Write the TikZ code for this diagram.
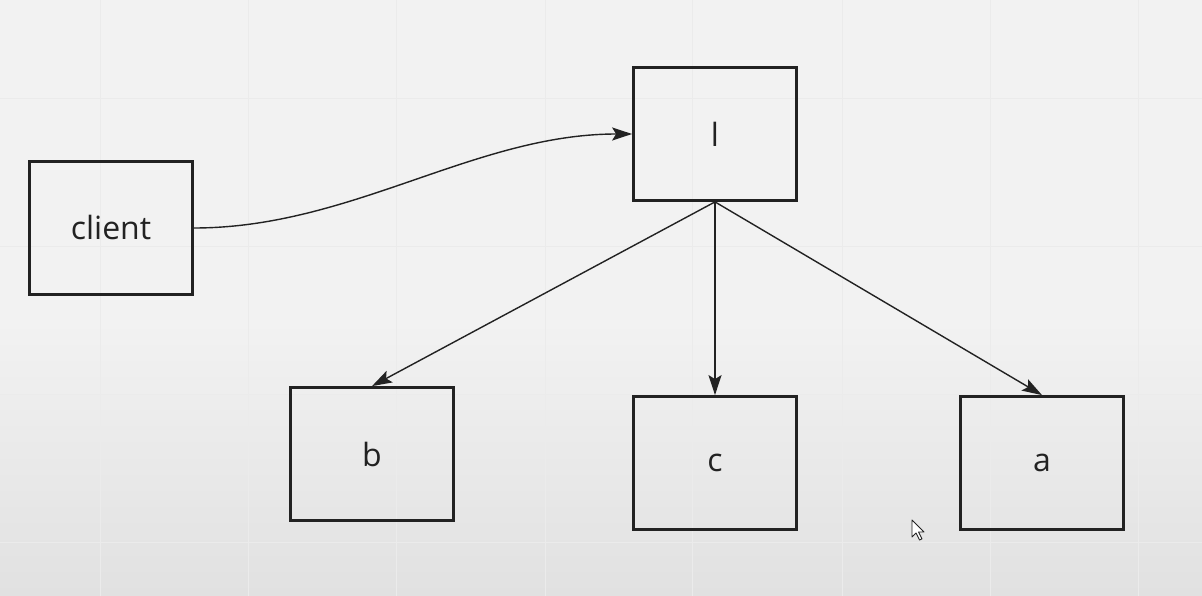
\documentclass[tikz,border=0pt]{standalone}
\usepackage{fontspec}
\setmainfont{Open Sans}
\usetikzlibrary{arrows.meta}
\definecolor{bgtop}{HTML}{F2F2F2}
\definecolor{bgbot}{HTML}{E1E1E1}
\definecolor{gridc}{HTML}{EBEBEB}
\definecolor{ink}{HTML}{222222}
\tikzset{
  box/.style={draw=ink, line width=2.8pt, minimum width=163pt, minimum height=133pt,
    inner sep=0pt, font=\fontsize{32}{36}\selectfont, text=ink},
  link/.style={draw=ink, line width=1.4pt, -{Stealth[length=20pt,width=13pt,inset=4pt]}},
}
\begin{document}
\begin{tikzpicture}[x=1pt,y=-1pt]
  \useasboundingbox (0,0) rectangle (1202,596);
  % backdrop: flat top, darker towards the bottom
  \fill[bgtop] (0,0) rectangle (1202,320);
  \shade[top color=bgtop, bottom color=bgbot] (0,320) rectangle (1202,596);
  % faint canvas grid
  \foreach \gx in {100,248,396,545,692,842,990,1138}
    \draw[gridc, line width=0.7pt] (\gx,0) -- (\gx,596);
  \foreach \gy in {98,246,394,542}
    \draw[gridc, line width=0.7pt] (0,\gy) -- (1202,\gy);

  % boxes
  \node[box] (client) at (111,228) {client};
  \node[box] (l) at (715,134) {l};
  \node[box] (b) at (372,454) {b};
  \node[box] (c) at (715,463) {c};
  \node[box] (a) at (1042,463) {a};

  % connectors
  \draw[link] (client.east) to[out=0, in=180, looseness=0.9] (l.west);
  \draw[link] (l.south) -- (b.north);
  \draw[link] (l.south) -- (c.north);
  \draw[link] (l.south) -- (a.north);

  % mouse pointer
  \coordinate (ptr) at (912,520);
  \draw[ink, fill=white, line width=0.9pt, line join=round]
    (ptr) -- ++(0,17) -- ++(4,-4) -- ++(3.5,7) -- ++(2.5,-1.2) -- ++(-3.5,-6.8)
    -- ++(5.5,0) -- cycle;
\end{tikzpicture}
\end{document}
